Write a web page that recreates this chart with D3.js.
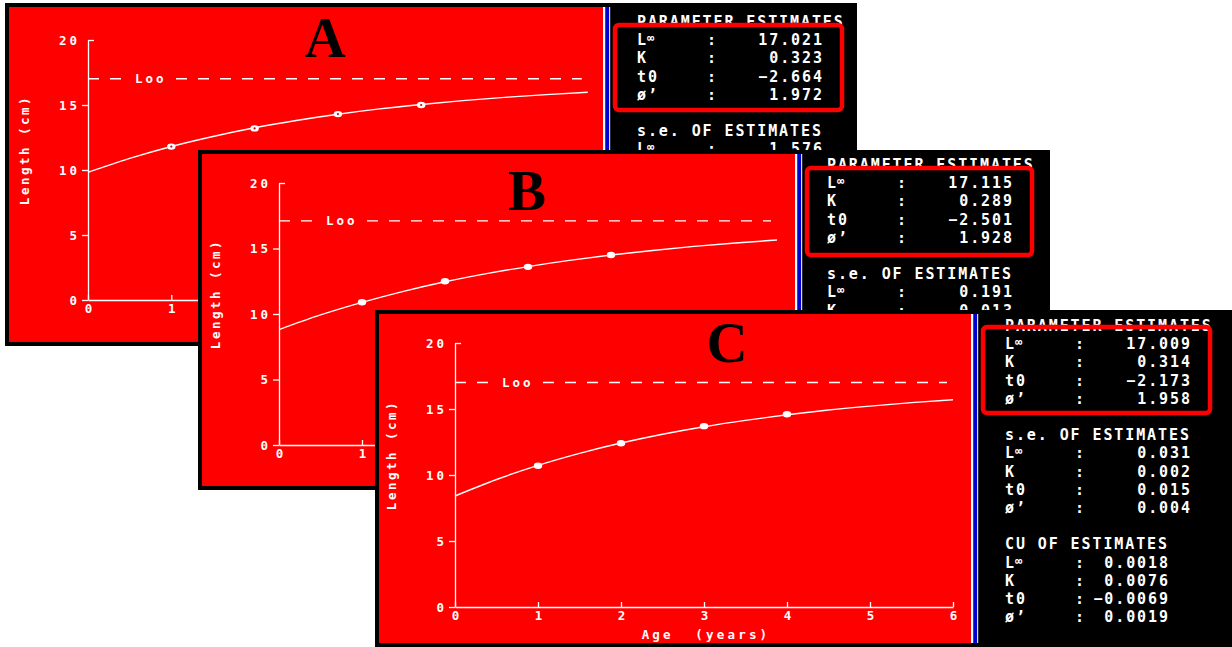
<!DOCTYPE html>
<html>
<head>
<meta charset="utf-8">
<script src="https://cdn.jsdelivr.net/npm/d3@7"></script>
<style>
  html, body { margin: 0; padding: 0; background: #fff; }
  svg { display: block; }
</style>
</head>
<body>
<svg id="chart" width="1232" height="647"></svg>
<script>
// ---- Data -------------------------------------------------------------
const panelNames = ["A", "B", "C"];

// mean length at age (cm)
const obsAges = [1, 2, 3, 4];
const obsA = [11.8, 13.2, 14.3, 15.0];
const obsB = [10.9, 12.5, 13.6, 14.5];
const obsC = [10.7, 12.4, 13.7, 14.6];

// fitted growth curve, length (cm) at age (years)
const fitAges = [0, 0.5, 1, 1.5, 2, 2.5, 3, 3.5, 4, 4.5, 5, 5.5, 6];
const fitA = [9.82, 10.89, 11.81, 12.58, 13.25, 13.81, 14.29, 14.70, 15.04, 15.34, 15.59, 15.80, 15.98];
const fitB = [8.81, 9.93, 10.89, 11.73, 12.46, 13.08, 13.62, 14.09, 14.50, 14.85, 15.16, 15.42, 15.65];
const fitC = [8.41, 9.66, 10.73, 11.64, 12.42, 13.09, 13.66, 14.14, 14.56, 14.92, 15.22, 15.48, 15.70];

// parameter estimates: L∞, K, t0, ø'
const paramLabels = ["L\u221E", "K", "t0", "\u00F8\u2019"];
const paramA = [17.021, 0.323, -2.664, 1.972];
const paramB = [17.115, 0.289, -2.501, 1.928];
const paramC = [17.009, 0.314, -2.173, 1.958];

// standard errors and coefficients of variation of the estimates
const seA = [1.576];
const seB = [0.191, 0.013];
const seC = [0.031, 0.002, 0.015, 0.004];
const cvC = [0.0018, 0.0076, -0.0069, 0.0019];

// axis ticks
const xTicks = [0, 1, 2, 3, 4, 5, 6];
const yTicks = [0, 5, 10, 15, 20];

const series = {
  A: { obs: obsA, fit: fitA, params: paramA, se: seA, cv: null },
  B: { obs: obsB, fit: fitB, params: paramB, se: seB, cv: null },
  C: { obs: obsC, fit: fitC, params: paramC, se: seC, cv: cvC }
};

// ---- Layout of each screen panel --------------------------------------
const layout = {
  A: { x: 5,   y: 3,   w: 852, h: 343, redR: 598, ax: 83, ay0: 297, ay20: 37, yearW: 83.3,
       letterX: 320, letterY: 54, tx: 632, colonX: 702, valR: 817, cvR: 795, headY: 24,
       box: [610, 22, 227, 85], hollow: true },
  B: { x: 198, y: 150, w: 852, h: 340, redR: 597, ax: 81, ay0: 295, ay20: 33, yearW: 83,
       letterX: 329, letterY: 60, tx: 629, colonX: 699, valR: 814, cvR: 792, headY: 20,
       box: [609, 18, 225, 87], hollow: false },
  C: { x: 375, y: 310, w: 870, h: 337, redR: 596, ax: 80, ay0: 297, ay20: 33, yearW: 83,
       letterX: 352, letterY: 52, tx: 630, colonX: 700, valR: 815, cvR: 793, headY: 21,
       box: [608, 17, 227, 86], hollow: false }
};

const MONO = "'DejaVu Sans Mono', monospace";
const RED = "#ff0000";
const fmt3 = d3.format(".3f");
const fmt4 = d3.format(".4f");
const svg = d3.select("#chart");

function drawPanel(name) {
  const d = series[name];
  const L = layout[name];
  const g = svg.append("g").attr("class", "panel")
    .attr("transform", `translate(${L.x},${L.y})`);

  // screen frame, plot area and separator stripes
  g.append("rect").attr("width", L.w).attr("height", L.h).attr("fill", "#000");
  g.append("rect").attr("x", 4).attr("y", 4).attr("width", L.redR - 4).attr("height", L.h - 8).attr("fill", RED);
  g.append("rect").attr("x", L.redR).attr("y", 4).attr("width", 2.5).attr("height", L.h - 8).attr("fill", "#fff");
  g.append("rect").attr("x", L.redR + 2.5).attr("y", 4).attr("width", 3.5).attr("height", L.h - 8).attr("fill", "#0000d0");
  g.append("rect").attr("x", L.redR + 6).attr("y", 4).attr("width", 1.2).attr("height", L.h - 8).attr("fill", "#dde");

  const x = d3.scaleLinear().domain([0, 6]).range([L.ax, L.ax + 6 * L.yearW]);
  const y = d3.scaleLinear().domain([0, 20]).range([L.ay0, L.ay20]);

  // axes
  const xAxis = g.append("g").attr("transform", `translate(0,${L.ay0})`)
    .call(d3.axisBottom(x).tickValues(xTicks).tickSizeInner(-5).tickSizeOuter(0)
      .tickPadding(4).tickFormat(d3.format("d")));
  const yAxis = g.append("g").attr("transform", `translate(${L.ax},0)`)
    .call(d3.axisLeft(y).tickValues(yTicks).tickSizeInner(6).tickSizeOuter(0)
      .tickPadding(2).tickFormat(d3.format("d")));
  [xAxis, yAxis].forEach(a => {
    a.attr("font-family", MONO).attr("font-size", 12.5).attr("font-weight", "bold");
    a.select(".domain").attr("stroke", "#fff").attr("stroke-width", 1.3);
    a.selectAll(".tick line").attr("stroke", "#fff").attr("stroke-width", 1.3);
    a.selectAll(".tick text").attr("fill", "#fff");
  });
  yAxis.selectAll(".tick text").attr("letter-spacing", 3);
  yAxis.selectAll(".tick").filter(v => v === 20).select("line").attr("x2", 6);

  // asymptotic length
  const linf = d.params[0];
  g.append("line")
    .attr("x1", x(0)).attr("x2", x(6) - 6)
    .attr("y1", y(linf)).attr("y2", y(linf))
    .attr("stroke", "#fff").attr("stroke-width", 1.3).attr("stroke-dasharray", "11,11");
  g.append("rect").attr("x", x(0) + 40).attr("y", y(linf) - 3).attr("width", 46).attr("height", 6).attr("fill", RED);
  g.append("text").attr("x", x(0) + 47).attr("y", y(linf) + 4.5)
    .attr("font-family", MONO).attr("font-size", 12.5).attr("font-weight", "bold")
    .attr("letter-spacing", 3).attr("fill", "#fff").text("Loo");

  // growth curve and age points
  const line = d3.line().x((v, i) => x(fitAges[i])).y(v => y(v)).curve(d3.curveMonotoneX);
  g.append("path").datum(d.fit).attr("d", line)
    .attr("fill", "none").attr("stroke", "#fff").attr("stroke-width", 1.4);
  g.selectAll("ellipse.pt").data(d.obs).join("ellipse").attr("class", "pt")
    .attr("cx", (v, i) => x(obsAges[i])).attr("cy", v => y(v))
    .attr("rx", 4.2).attr("ry", 3.2).attr("fill", "#fff");
  if (L.hollow) {
    g.selectAll("circle.pc").data(d.obs).join("circle").attr("class", "pc")
      .attr("cx", (v, i) => x(obsAges[i])).attr("cy", v => y(v))
      .attr("r", 1.1).attr("fill", "#c00");
  }

  // axis titles
  const midY = (L.ay0 + L.ay20) / 2 - 20;
  g.append("text").attr("transform", `translate(${L.ax - 59},${midY}) rotate(-90)`)
    .attr("text-anchor", "middle")
    .attr("font-family", MONO).attr("font-size", 12.5).attr("font-weight", "bold")
    .attr("letter-spacing", 2.5).attr("fill", "#fff").text("Length (cm)");
  g.append("text").attr("x", x(3) + 2).attr("y", L.ay0 + 32).attr("text-anchor", "middle")
    .attr("font-family", MONO).attr("font-size", 12.5).attr("font-weight", "bold")
    .attr("letter-spacing", 3.2).attr("fill", "#fff").attr("xml:space", "preserve").text("Age  (years)");

  // panel letter
  g.append("text").attr("x", L.letterX).attr("y", L.letterY).attr("text-anchor", "middle")
    .attr("font-family", "'Liberation Serif', 'Times New Roman', serif")
    .attr("font-weight", "bold").attr("font-size", 57).attr("fill", "#000").text(name);

  // estimates listing
  const tg = g.append("g").attr("font-family", MONO).attr("font-size", 15)
    .attr("font-weight", "bold").attr("fill", "#fff").attr("letter-spacing", 1.9);
  const rowY = k => L.headY + k * 18.2;
  const heading = (k, s) => tg.append("text").attr("x", L.tx).attr("y", rowY(k))
    .attr("xml:space", "preserve").text(s);
  const label = (k, s) => {
    const t = tg.append("text").attr("x", L.tx).attr("y", rowY(k));
    if (s.startsWith("L\u221E")) {
      // infinity sign set small and raised, as on the screen
      t.append("tspan").text("L");
      t.append("tspan").attr("font-size", 12).attr("dy", -3).attr("dx", -1).text("\u221E");
    } else {
      t.text(s);
    }
  };
  const row = (k, name, value, right) => {
    label(k, name);
    tg.append("text").attr("x", L.colonX).attr("y", rowY(k)).text(":");
    tg.append("text").attr("x", right + 1.9).attr("y", rowY(k)).attr("text-anchor", "end").text(value);
  };
  heading(0, "PARAMETER ESTIMATES");
  d.params.forEach((v, i) => row(1 + i, paramLabels[i], fmt3(v), L.valR));
  heading(6, "s.e. OF ESTIMATES");
  d.se.forEach((v, i) => row(7 + i, paramLabels[i], fmt3(v), L.valR));
  if (d.cv) {
    heading(12, "CU OF ESTIMATES");
    d.cv.forEach((v, i) => row(13 + i, paramLabels[i], fmt4(v), L.cvR));
  }

  // highlight box round the parameter estimates
  g.append("rect").attr("x", L.box[0]).attr("y", L.box[1])
    .attr("width", L.box[2]).attr("height", L.box[3]).attr("rx", 4)
    .attr("fill", "none").attr("stroke", RED).attr("stroke-width", 4.5);
  return g;
}

const groups = panelNames.map(drawPanel);

// Each screen sits on top of the previous one: drop the text of an earlier
// screen that lies wholly underneath a later one.
groups.forEach((g, i) => {
  const later = panelNames.slice(i + 1).map(n => layout[n]);
  g.selectAll("text").each(function () {
    const r = this.getBoundingClientRect();
    const hidden = later.some(p => r.left >= p.x && r.right <= p.x + p.w &&
                                   r.top >= p.y && r.bottom <= p.y + p.h);
    if (hidden) d3.select(this).remove();
  });
});
</script>
</body>
</html>
